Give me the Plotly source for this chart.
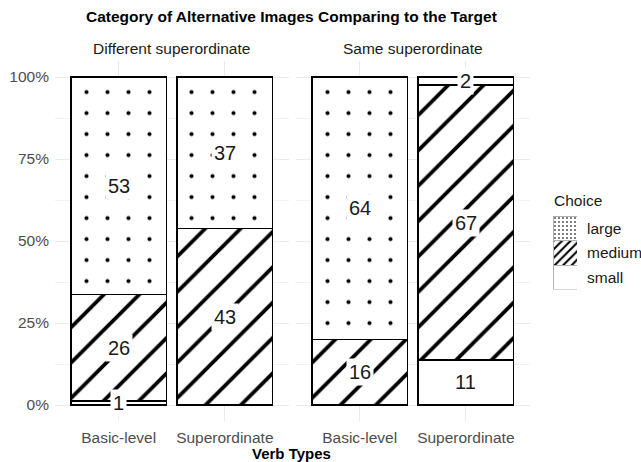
import plotly.graph_objects as go

verb_types = ["Basic-level", "Superordinate"]
facets = ["Different superordinate", "Same superordinate"]
choices = ["small", "medium", "large"]

diff_small = [1, 0]
diff_medium = [26, 43]
diff_large = [53, 37]
same_small = [0, 11]
same_medium = [16, 67]
same_large = [64, 2]

panel_data = [
    {"small": diff_small, "medium": diff_medium, "large": diff_large},
    {"small": same_small, "medium": same_medium, "large": same_large},
]

W, H = 641, 462
FONT = "Liberation Sans, Arial, sans-serif"

patterns = {
    "small": dict(shape="", bgcolor="white", fgcolor="black"),
    "medium": dict(shape="/", bgcolor="white", fgcolor="black", fgopacity=1, size=25, solidity=0.15),
    "large": dict(shape=".", bgcolor="white", fgcolor="black", fgopacity=1, size=21, solidity=0.03),
}
key_patterns = {
    "small": dict(shape="", bgcolor="white", fgcolor="black"),
    "medium": dict(shape="/", bgcolor="white", fgcolor="black", fgopacity=1, size=6, solidity=0.35),
    "large": dict(shape=".", bgcolor="white", fgcolor="#555", fgopacity=1, size=4, solidity=0.2),
}

fig = go.Figure()
annotations = []
for p, data in enumerate(panel_data):
    xa = "x" if p == 0 else "x2"
    ya = "y" if p == 0 else "y2"
    totals = [sum(data[c][i] for c in choices) for i in range(len(verb_types))]
    base = [0.0] * len(verb_types)
    for c in choices:
        props = [data[c][i] / totals[i] for i in range(len(verb_types))]
        fig.add_trace(go.Bar(
            x=verb_types, y=props, name=c, xaxis=xa, yaxis=ya,
            width=0.9, showlegend=False,
            marker=dict(color="white", line=dict(color="black", width=1.5),
                        pattern=patterns[c]),
            hoverinfo="skip",
        ))
        for i, v in enumerate(data[c]):
            if v > 0:
                annotations.append(dict(
                    x=verb_types[i], y=base[i] + props[i] / 2, xref=xa, yref=ya,
                    text=str(v), showarrow=False, bgcolor="white", borderpad=2,
                    font=dict(size=20, color="#1a1a1a", family=FONT),
                ))
            base[i] += props[i]


def px_x(v):
    return v / W


def px_y(v):
    return 1 - v / H


key_dom = [px_y(289.5), px_y(216)]

# legend keys (custom, stacked boxes like ggplot's legend)
for k, c in enumerate(choices):
    fig.add_trace(go.Bar(
        x=["key"], y=[1], name=c, xaxis="x3", yaxis="y3", width=1, showlegend=False,
        marker=dict(color="white", line=dict(color="#b0b0b0", width=1), pattern=key_patterns[c]),
        hoverinfo="skip",
    ))
    annotations.append(dict(
        x=px_x(585), y=key_dom[0] + (k + 0.5) / len(choices) * (key_dom[1] - key_dom[0]),
        xref="paper", yref="paper", text=c, showarrow=False,
        xanchor="left", yanchor="middle", font=dict(size=15.5, color="#1a1a1a", family=FONT),
    ))

yd = [px_y(421.4), px_y(60.6)]
axis_common = dict(showgrid=True, gridcolor="#EBEBEB", gridwidth=1, zeroline=False,
                   showline=False, ticks="", automargin=False,
                   tickfont=dict(size=15.5, color="#4d4d4d", family=FONT))

fig.update_layout(
    width=W, height=H, margin=dict(l=0, r=0, t=0, b=0),
    plot_bgcolor="white", paper_bgcolor="white",
    barmode="stack", font=dict(family=FONT), showlegend=False,
    xaxis=dict(domain=[px_x(55), px_x(288.5)], range=[-0.6, 1.6], anchor="y",
               ticklabelstandoff=5, **axis_common),
    xaxis2=dict(domain=[px_x(296), px_x(529.5)], range=[-0.6, 1.6], anchor="y2",
                ticklabelstandoff=5, **axis_common),
    yaxis=dict(domain=yd, range=[-0.05, 1.05], anchor="x", tickvals=[0, 0.25, 0.5, 0.75, 1],
               ticktext=["0%", "25%", "50%", "75%", "100%"], ticklabelstandoff=5,
               minor=dict(tickvals=[0.125, 0.375, 0.625, 0.875], showgrid=True,
                          gridcolor="#F2F2F2", gridwidth=1),
               **axis_common),
    yaxis2=dict(domain=yd, range=[-0.05, 1.05], anchor="x2", tickvals=[0, 0.25, 0.5, 0.75, 1],
                showticklabels=False,
                minor=dict(tickvals=[0.125, 0.375, 0.625, 0.875], showgrid=True,
                           gridcolor="#F2F2F2", gridwidth=1),
                **axis_common),
    xaxis3=dict(domain=[px_x(553), px_x(577)], range=[-0.5, 0.5], anchor="y3", visible=False,
                fixedrange=True),
    yaxis3=dict(domain=key_dom, range=[0, 3], anchor="x3", visible=False,
                fixedrange=True),
)

annotations += [
    dict(text="<b>Category of Alternative Images Comparing to the Target</b>",
         x=px_x(291), y=px_y(16), xref="paper", yref="paper", showarrow=False,
         font=dict(size=15.5, color="black", family=FONT), xanchor="center", yanchor="middle"),
    dict(text=facets[0], x=px_x(171.5), y=px_y(48), xref="paper", yref="paper", showarrow=False,
         font=dict(size=15.5, color="#1a1a1a", family=FONT), xanchor="center", yanchor="middle"),
    dict(text=facets[1], x=px_x(412.5), y=px_y(48), xref="paper", yref="paper", showarrow=False,
         font=dict(size=15.5, color="#1a1a1a", family=FONT), xanchor="center", yanchor="middle"),
    dict(text="<b>Verb Types</b>", x=px_x(291), y=px_y(453), xref="paper", yref="paper",
         showarrow=False, font=dict(size=15, color="black", family=FONT),
         xanchor="center", yanchor="middle"),
    dict(text="Choice", x=px_x(552), y=px_y(200), xref="paper", yref="paper",
         showarrow=False, font=dict(size=15.5, color="#1a1a1a", family=FONT),
         xanchor="left", yanchor="middle"),
]
fig.update_layout(annotations=annotations)

fig.write_html("out.html", config={"displayModeBar": False},
               post_script="document.body.style.margin='0';document.body.style.overflow='hidden';")
